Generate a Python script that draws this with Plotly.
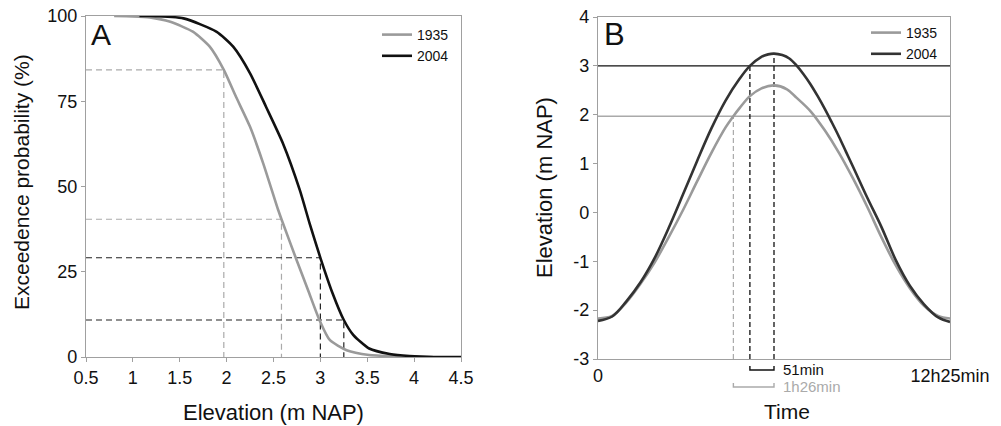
import plotly.graph_objects as go

# ---------------- Data: panel A (exceedance curves) ----------------
elev_1935 = [0.8, 1.0, 1.18, 1.4, 1.64, 1.82, 1.97, 2.10, 2.25, 2.39, 2.55, 2.585,
             2.74, 2.87, 2.99, 3.10, 3.28, 3.52, 3.8, 4.0, 4.2]
prob_1935 = [100, 99.9, 99.6, 98.3, 95.4, 91, 84.2, 76.3, 67.5, 56.8, 43.1, 40.4,
             28.9, 19.5, 10.85, 5.0, 2.0, 0.6, 0.2, 0.05, 0]
elev_2004 = [1.07, 1.18, 1.54, 1.89, 2.07, 2.25, 2.42, 2.60, 2.78, 2.885, 3.0, 3.13,
             3.25, 3.35, 3.52, 3.74, 3.95, 4.2, 4.5]
prob_2004 = [100, 100, 99.3, 95.4, 91, 83.2, 73.4, 62.7, 49, 39.2, 29.1, 18.7,
             10.85, 6.5, 2.5, 0.9, 0.3, 0, 0]

# read-off points (elevation, probability) for the dashed guide lines
guide_elev_1935 = [1.97, 2.585]
guide_prob_1935 = [84.2, 40.4]
guide_elev_2004 = [3.0, 3.25]
guide_prob_2004 = [29.1, 10.85]

x_tick_vals_a = [0.5, 1, 1.5, 2, 2.5, 3, 3.5, 4, 4.5]
y_tick_vals_a = [0, 25, 50, 75, 100]

# ---------------- Data: panel B (tidal curves, minutes since low water) ----------------
time_2004 = [0, 30, 60, 90, 120, 150, 180, 210, 240, 270, 300, 321.5, 345, 360, 372.5,
             390, 405, 420, 435, 450, 465, 480, 495, 510, 525, 540, 570, 600, 630, 660,
             690, 720, 745]
level_2004 = [-2.22, -2.13, -1.82, -1.43, -0.93, -0.31, 0.37, 1.06, 1.72, 2.29, 2.74,
              3.0, 3.18, 3.235, 3.25, 3.22, 3.15, 3.01, 2.83, 2.62, 2.38, 2.12, 1.84,
              1.55, 1.24, 0.93, 0.30, -0.30, -0.97, -1.50, -1.88, -2.15, -2.24]
time_1935 = [0, 30, 60, 90, 120, 150, 180, 210, 240, 270, 286.5, 300, 321.5, 346, 372.5,
             400, 420, 450, 480, 510, 540, 570, 600, 630, 660, 690, 720, 745]
level_1935 = [-2.17, -2.12, -1.84, -1.46, -1.02, -0.50, 0.05, 0.64, 1.22, 1.74, 1.97,
              2.14, 2.38, 2.54, 2.60, 2.52, 2.35, 2.07, 1.68, 1.22, 0.69, 0.11, -0.51,
              -1.08, -1.55, -1.91, -2.12, -2.17]

tide_period = 745          # 12h25min in minutes
ref_level_1935 = 1.97
ref_level_2004 = 3.0
t_cross_1935 = 286.5
t_cross_2004 = 321.5
t_peak = 372.5
peak_2004 = 3.25
x_tick_vals_b = [0, 745]
x_tick_text_b = ["0", "12h25min"]
y_tick_vals_b = [-3, -2, -1, 0, 1, 2, 3, 4]
y_tick_text_b = ["-3", "-2", "-1", "0", "1", "2", "3", "4"]
dur_2004_label = "51min"
dur_1935_label = "1h26min"

GRAY = "#9a9a9a"
LGRAY = "#aaaaaa"
BLACK = "#111111"
DARK = "#333333"
AXC = "#a0a0a0"
FONT = "Arial, Liberation Sans, sans-serif"

fig = go.Figure()

# ---- panel A guides
for e, p, col in [(guide_elev_1935, guide_prob_1935, LGRAY), (guide_elev_2004, guide_prob_2004, "#222222")]:
    for ei, pi in zip(e, p):
        fig.add_trace(go.Scatter(x=[0.5, ei, ei], y=[pi, pi, 0], mode="lines",
                                 line=dict(color=col, width=1.2, dash="6px,4px"),
                                 showlegend=False, hoverinfo="skip", xaxis="x", yaxis="y"))

fig.add_trace(go.Scatter(x=elev_1935, y=prob_1935, mode="lines", name="1935",
                         line=dict(color=GRAY, width=2.6, shape="spline", smoothing=0.6),
                         legend="legend", xaxis="x", yaxis="y"))
fig.add_trace(go.Scatter(x=elev_2004, y=prob_2004, mode="lines", name="2004",
                         line=dict(color=BLACK, width=2.6, shape="spline", smoothing=0.6),
                         legend="legend", xaxis="x", yaxis="y"))

# ---- panel B reference lines
fig.add_trace(go.Scatter(x=[0, tide_period], y=[ref_level_2004] * 2, mode="lines",
                         line=dict(color=BLACK, width=1.3), showlegend=False,
                         hoverinfo="skip", xaxis="x2", yaxis="y2"))
fig.add_trace(go.Scatter(x=[0, tide_period], y=[ref_level_1935] * 2, mode="lines",
                         line=dict(color=LGRAY, width=1.6), showlegend=False,
                         hoverinfo="skip", xaxis="x2", yaxis="y2"))
# vertical dashed guides
fig.add_trace(go.Scatter(x=[t_cross_1935] * 2, y=[-3, ref_level_1935], mode="lines",
                         line=dict(color=LGRAY, width=1.2, dash="5px,3px"), showlegend=False,
                         hoverinfo="skip", xaxis="x2", yaxis="y2"))
fig.add_trace(go.Scatter(x=[t_cross_2004] * 2, y=[-3, ref_level_2004], mode="lines",
                         line=dict(color="#111111", width=1.3, dash="5px,3px"), showlegend=False,
                         hoverinfo="skip", xaxis="x2", yaxis="y2"))
fig.add_trace(go.Scatter(x=[t_peak] * 2, y=[-3, peak_2004], mode="lines",
                         line=dict(color="#111111", width=1.3, dash="5px,3px"), showlegend=False,
                         hoverinfo="skip", xaxis="x2", yaxis="y2"))

fig.add_trace(go.Scatter(x=time_1935, y=level_1935, mode="lines", name="1935",
                         line=dict(color=GRAY, width=2.6, shape="spline", smoothing=1.0),
                         legend="legend2", xaxis="x2", yaxis="y2"))
fig.add_trace(go.Scatter(x=time_2004, y=level_2004, mode="lines", name="2004",
                         line=dict(color=DARK, width=2.6, shape="spline", smoothing=1.0),
                         legend="legend2", xaxis="x2", yaxis="y2"))

W, H = 1001, 426
def px_x(p): return p / W
def px_y(p): return 1 - p / H

axis_common = dict(showline=True, linecolor=AXC, linewidth=1.3, mirror=True,
                   showgrid=False, zeroline=False,
                   tickfont=dict(family=FONT, size=18, color="#111"),
                   automargin=False)

fig.update_layout(
    width=W, height=H,
    margin=dict(l=0, r=0, t=0, b=0),
    paper_bgcolor="white", plot_bgcolor="white",
    font=dict(family=FONT, color="#111"),
    xaxis=dict(domain=[px_x(86), px_x(461)], range=[0.5, 4.5], tickmode="array",
               tickvals=x_tick_vals_a, ticktext=[f"{v:g}" for v in x_tick_vals_a],
               ticks="outside", ticklen=4, tickcolor=AXC, anchor="y", **axis_common),
    yaxis=dict(domain=[px_y(357), px_y(16)], range=[0, 100], tickmode="array",
               tickvals=y_tick_vals_a, ticktext=[str(v) for v in y_tick_vals_a],
               ticks="outside", ticklen=4, tickcolor=AXC, anchor="x", **axis_common),
    xaxis2=dict(domain=[px_x(598), px_x(950)], range=[0, tide_period], tickmode="array",
                tickvals=x_tick_vals_b, ticktext=x_tick_text_b, ticks="", anchor="y2",
                **axis_common),
    yaxis2=dict(domain=[px_y(359), px_y(17)], range=[-3, 4], tickmode="array",
                tickvals=y_tick_vals_b, ticktext=y_tick_text_b,
                ticks="outside", ticklen=4, tickcolor=AXC, anchor="x2", **axis_common),
    legend=dict(x=px_x(377), y=px_y(19), xanchor="left", yanchor="top",
                bgcolor="rgba(0,0,0,0)", font=dict(family=FONT, size=14, color="#111"),
                itemwidth=30, tracegroupgap=0),
    legend2=dict(x=px_x(866), y=px_y(17), xanchor="left", yanchor="top",
                 bgcolor="rgba(0,0,0,0)", font=dict(family=FONT, size=14, color="#111"),
                 itemwidth=30, tracegroupgap=0),
)

# brackets under panel B (x from data, y in paper)
def bracket(x0, x1, ypix, col):
    yb = px_y(ypix)
    yt = px_y(ypix - 4)
    fig.add_shape(type="path", xref="x2", yref="paper",
                  path=f"M {x0},{yt} L {x0},{yb} L {x1},{yb} L {x1},{yt}",
                  line=dict(color=col, width=1.4))

bracket(t_cross_2004, t_peak, 370, "#111111")
bracket(t_cross_1935, t_peak, 387, LGRAY)

annotations = [
    dict(text=dur_2004_label, x=t_peak, xref="x2", y=px_y(369), yref="paper",
         xanchor="left", yanchor="middle", xshift=7, showarrow=False,
         font=dict(family=FONT, size=15, color="#111")),
    dict(text=dur_1935_label, x=t_peak, xref="x2", y=px_y(386), yref="paper",
         xanchor="left", yanchor="middle", xshift=7, showarrow=False,
         font=dict(family=FONT, size=15, color=LGRAY)),
    dict(text="A", x=px_x(89), y=px_y(16), xref="paper", yref="paper",
         xanchor="left", yanchor="top", showarrow=False,
         font=dict(family=FONT, size=30, color="#111")),
    dict(text="B", x=px_x(602), y=px_y(15), xref="paper", yref="paper",
         xanchor="left", yanchor="top", showarrow=False,
         font=dict(family=FONT, size=31, color="#111")),
    dict(text="Elevation (m NAP)", x=px_x(273), y=px_y(412), xref="paper", yref="paper",
         xanchor="center", yanchor="middle", showarrow=False,
         font=dict(family=FONT, size=22, color="#111")),
    dict(text="Exceedence probability (%)", x=px_x(22), y=px_y(182), xref="paper", yref="paper",
         xanchor="center", yanchor="middle", textangle=-90, showarrow=False,
         font=dict(family=FONT, size=21, color="#111")),
    dict(text="Elevation (m NAP)", x=px_x(545), y=px_y(188), xref="paper", yref="paper",
         xanchor="center", yanchor="middle", textangle=-90, showarrow=False,
         font=dict(family=FONT, size=22, color="#111")),
    dict(text="Time", x=px_x(787), y=px_y(411), xref="paper", yref="paper",
         xanchor="center", yanchor="middle", showarrow=False,
         font=dict(family=FONT, size=21, color="#111")),
]
fig.update_layout(annotations=annotations)

fig.write_html("out.html")
